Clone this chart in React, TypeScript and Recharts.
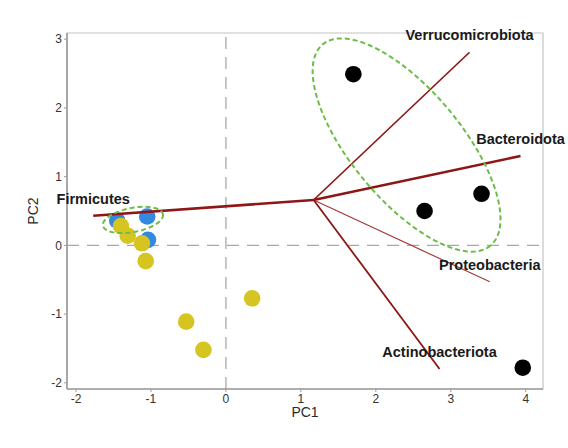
import React from 'react';
import {
  ScatterChart,
  Scatter,
  XAxis,
  YAxis,
  ReferenceLine,
  ReferenceArea,
  ReferenceDot,
} from 'recharts';

// ---- axis ticks ----
const xTicks = [-2, -1, 0, 1, 2, 3, 4];
const yTicks = [-2, -1, 0, 1, 2, 3];
const xDomain = [-2.12, 4.23];
const yDomain = [-2.09, 3.09];

// ---- sample scores ----
const blackX = [1.7, 2.65, 3.41, 3.96];
const blackY = [2.49, 0.5, 0.75, -1.78];
const blueX = [-1.45, -1.05, -1.04];
const blueY = [0.36, 0.42, 0.08];
const yellowX = [-1.4, -1.31, -1.12, -1.07, -0.53, -0.3, 0.35];
const yellowY = [0.28, 0.14, 0.03, -0.23, -1.11, -1.52, -0.77];

// ---- loadings (biplot vectors) ----
const loadingOrigin = { x: 1.17, y: 0.66 };
const loadingNames = ['Verrucomicrobiota', 'Bacteroidota', 'Proteobacteria', 'Actinobacteriota', 'Firmicutes'];
const loadingX = [3.25, 3.93, 3.52, 2.85, -1.77];
const loadingY = [2.81, 1.3, -0.53, -1.8, 0.43];

// ---- confidence ellipses (center + conjugate semi-axes, data units) ----
const bigEllipse = { cx: 2.41, cy: 1.46, ax: 1.119, ay: -1.465, bx: -0.565, by: -0.512 };
const smallEllipse = { cx: -1.24, cy: 0.37, ax: 0.4, ay: 0.084, bx: 0.031, by: -0.172 };

// styles
const arrowWidths = [1.7, 2.6, 1.2, 1.8, 2.6];
const arrowColors = ['#8e1616', '#8e1616', '#a83a3a', '#8e1616', '#8e1616'];

const zip = (xs: number[], ys: number[]) => xs.map((x, i) => ({ x, y: ys[i] }));

const ellipsePoints = (e: typeof bigEllipse) => {
  const n = 90;
  const pts: { x: number; y: number }[] = [];
  for (let i = 0; i <= n; i++) {
    const t = (i / n) * Math.PI * 2;
    pts.push({
      x: e.cx + e.ax * Math.cos(t) + e.bx * Math.sin(t),
      y: e.cy + e.ay * Math.cos(t) + e.by * Math.sin(t),
    });
  }
  return pts;
};

const dot = (color: string) => (p: any) => <circle cx={p.cx} cy={p.cy} r={8.3} fill={color} />;
const noShape = () => <g />;

const FONT = '"Liberation Sans", Arial, sans-serif';

export default function App() {
  const black = zip(blackX, blackY);
  const blue = zip(blueX, blueY);
  const yellow = zip(yellowX, yellowY);
  return (
    <div style={{ position: 'absolute', left: 0, top: 0 }}>
      <ScatterChart
        width={568}
        height={448}
        margin={{ top: 33, right: 25, bottom: 29, left: 27 }}
        style={{ fontFamily: FONT }}
      >
        <ReferenceArea
          x1={xDomain[0]}
          x2={xDomain[1]}
          y1={yDomain[0]}
          y2={yDomain[1]}
          fill="none"
          stroke="#c4c4c4"
          strokeWidth={1.2}
          ifOverflow="visible"
        />
        <XAxis
          type="number"
          dataKey="x"
          domain={xDomain}
          ticks={xTicks}
          allowDataOverflow
          height={30}
          tickSize={3}
          tickMargin={2}
          axisLine={{ stroke: '#9c9c9c', strokeWidth: 1.6 }}
          tickLine={{ stroke: '#9c9c9c' }}
          tick={{ fill: '#333', fontSize: 12, fontFamily: FONT }}
          label={{
            content: (props: any) => {
              const vb = props.viewBox || { x: 67, y: 389, width: 476, height: 30 };
              return (
                <text x={vb.x + vb.width / 2} y={417} textAnchor="middle" fill="#2a2a2a" fontSize={14} fontFamily={FONT}>
                  PC1
                </text>
              );
            },
          }}
        />
        <YAxis
          type="number"
          dataKey="y"
          domain={yDomain}
          ticks={yTicks}
          allowDataOverflow
          width={40}
          tickSize={3}
          tickMargin={2}
          axisLine={{ stroke: '#9c9c9c', strokeWidth: 1.6 }}
          tickLine={{ stroke: '#9c9c9c' }}
          tick={{ fill: '#333', fontSize: 12, fontFamily: FONT }}
          label={{
            content: (props: any) => {
              const vb = props.viewBox || { x: 27, y: 33, width: 40, height: 356 };
              const cy = vb.y + vb.height / 2;
              return (
                <text
                  x={38}
                  y={cy}
                  transform={`rotate(-90, 38, ${cy})`}
                  textAnchor="middle"
                  fill="#2a2a2a"
                  fontSize={14}
                  fontFamily={FONT}
                >
                  PC2
                </text>
              );
            },
          }}
        />
        <ReferenceLine x={0} stroke="#a8a8a8" strokeWidth={1.3} strokeDasharray="12 8" />
        <ReferenceLine y={0} stroke="#a8a8a8" strokeWidth={1.3} strokeDasharray="12 8" />

        <Scatter data={blue} shape={dot('#3388e0')} isAnimationActive={false} />
        <Scatter data={yellow} shape={dot('#d6c420')} isAnimationActive={false} />
        <Scatter data={black} shape={dot('#000000')} isAnimationActive={false} />

        {loadingNames.map((name, i) => (
          <Scatter
            key={name}
            data={[loadingOrigin, { x: loadingX[i], y: loadingY[i] }]}
            line={{ stroke: arrowColors[i], strokeWidth: arrowWidths[i] }}
            shape={noShape}
            isAnimationActive={false}
          />
        ))}

        <Scatter
          data={ellipsePoints(bigEllipse)}
          line={{ stroke: '#6cbd48', strokeWidth: 2, strokeDasharray: '5 3' }}
          shape={noShape}
          isAnimationActive={false}
        />
        <Scatter
          data={ellipsePoints(smallEllipse)}
          line={{ stroke: '#6cbd48', strokeWidth: 2, strokeDasharray: '5 3' }}
          shape={noShape}
          isAnimationActive={false}
        />

        {loadingNames.map((name, i) => (
          <ReferenceDot
            key={'lbl' + name}
            x={loadingX[i]}
            y={loadingY[i]}
            r={0}
            fill="none"
            stroke="none"
            label={{
              value: name,
              position: 'top',
              offset: 12,
              fill: '#1a1a1a',
              fontSize: 14.5,
              fontWeight: 'bold',
              fontFamily: FONT,
            }}
          />
        ))}
      </ScatterChart>
    </div>
  );
}
